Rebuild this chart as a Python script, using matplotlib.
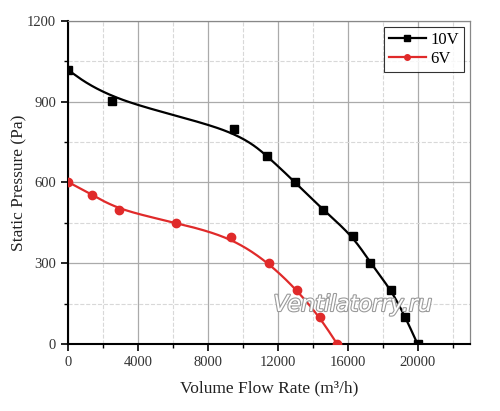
import numpy as np
import matplotlib.pyplot as plt
import matplotlib.patheffects as pe
from matplotlib.ticker import MultipleLocator

# Данные
flow_10v = [0, 2500, 9500, 11400, 13000, 14600, 16300, 17300, 18500, 19300, 20000]
pres_10v = [1018, 902, 800, 699, 600, 498, 401, 301, 200, 100, 0]
flow_6v = [0, 1400, 2900, 6200, 9300, 11500, 13100, 14400, 15400]
pres_6v = [602, 554, 498, 450, 398, 301, 200, 100, 0]

RED = '#e02a2a'

plt.rcParams['font.family'] = ['Liberation Serif', 'DejaVu Serif']


def bspline_curve(x, y, n=40):
    """Кубический B-сплайн, точки данных - контрольные (как B-Spline в Origin)"""
    pts = np.column_stack([x, y]).astype(float)
    pts = np.vstack([pts[:1], pts[:1], pts, pts[-1:], pts[-1:]])
    t = np.linspace(0, 1, n)[:, None]
    b0 = (1 - t)**3 / 6
    b1 = (3 * t**3 - 6 * t**2 + 4) / 6
    b2 = (-3 * t**3 + 3 * t**2 + 3 * t + 1) / 6
    b3 = t**3 / 6
    segs = []
    for i in range(len(pts) - 3):
        segs.append(b0 * pts[i] + b1 * pts[i + 1] + b2 * pts[i + 2] + b3 * pts[i + 3])
    curve = np.vstack(segs)
    return curve[:, 0], curve[:, 1]


fig = plt.figure(figsize=(5, 4.11), dpi=100)
ax = fig.add_axes([0.136, 0.163, 0.804, 0.786])

xs, ys = bspline_curve(flow_10v, pres_10v)
ax.plot(xs, ys, color='black', lw=1.6, zorder=3)
xs, ys = bspline_curve(flow_6v, pres_6v)
ax.plot(xs, ys, color=RED, lw=1.6, zorder=3)

ax.plot(flow_10v, pres_10v, 's', color='black', ms=6, zorder=4)
ax.plot(flow_6v, pres_6v, 'o', color=RED, ms=6, zorder=4)

# Легенда
ax.plot([], [], '-s', color='black', ms=4, lw=1.6, label='10V')
ax.plot([], [], '-o', color=RED, ms=4, lw=1.6, label='6V')
leg = ax.legend(loc='upper right', fontsize=12, fancybox=False, edgecolor='black',
                handlelength=2.2, handletextpad=0.3, borderpad=0.3,
                labelspacing=0.2, borderaxespad=0.35)
leg.get_frame().set_linewidth(0.8)

ax.set_xlim(0, 23000)
ax.set_ylim(0, 1200)
ax.xaxis.set_major_locator(MultipleLocator(4000))
ax.xaxis.set_minor_locator(MultipleLocator(2000))
ax.yaxis.set_major_locator(MultipleLocator(300))
ax.yaxis.set_minor_locator(MultipleLocator(150))

ax.grid(True, which='major', color='#aaaaaa', lw=0.9)
ax.grid(True, which='minor', color='#d8d8d8', lw=0.8, ls='--')
ax.set_axisbelow(True)

for side in ['left', 'bottom']:
    ax.spines[side].set_linewidth(1.5)
for side in ['top', 'right']:
    ax.spines[side].set_color('#888888')
    ax.spines[side].set_linewidth(0.9)

ax.tick_params(which='major', direction='out', length=5, width=1.2,
               labelsize=10.5, top=False, right=False, colors='black')
ax.tick_params(which='minor', direction='out', length=3, width=1.0,
               top=False, right=False)
ax.tick_params(axis='both', labelcolor='#333333')

ax.set_xlabel('Volume Flow Rate (m³/h)', fontsize=12.5, labelpad=8, color='#222222')
ax.set_ylabel('Static Pressure (Pa)', fontsize=12.5, labelpad=0, color='#222222')

# Водяной знак
ax.text(16300, 145, 'Ventilatorry.ru', fontsize=16, style='italic',
        family='DejaVu Sans', color='white', ha='center', va='center', zorder=5,
        path_effects=[pe.withStroke(linewidth=1.6, foreground='#9a9a9a')])

fig.savefig('out.png', dpi=100)
